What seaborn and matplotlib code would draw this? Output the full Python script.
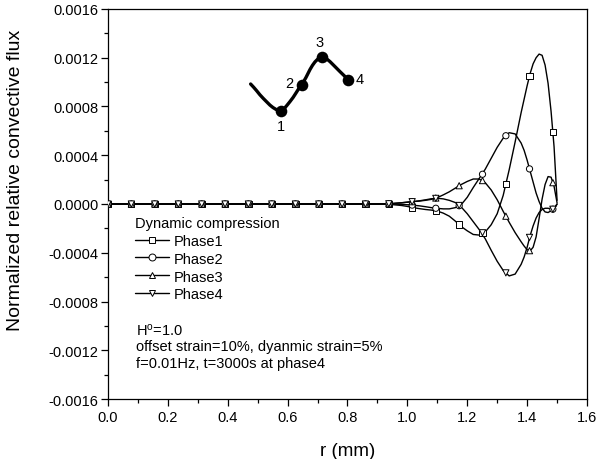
import numpy as np
import pandas as pd
import matplotlib
matplotlib.use("Agg")
import matplotlib.pyplot as plt
from matplotlib.lines import Line2D
from matplotlib.ticker import MultipleLocator, FuncFormatter
import seaborn as sns

# ---- data (flux values in units of 1e-4) ----
phases = ["Phase1", "Phase2", "Phase3", "Phase4"]
phase_markers = ["s", "o", "^", "v"]

# smooth curve samples
r_line = [0.0, 0.86, 0.90, 0.94, 0.98,
          1.00, 1.02, 1.04, 1.06, 1.08, 1.10, 1.12, 1.14, 1.16, 1.18,
          1.20, 1.22, 1.24, 1.26, 1.28, 1.30, 1.32, 1.34, 1.36, 1.38,
          1.39, 1.40, 1.41, 1.42, 1.43, 1.44, 1.45, 1.46, 1.47, 1.48, 1.49, 1.50]
p1_line = [0, 0, 0, -0.03, -0.12,
           -0.2, -0.3, -0.38, -0.45, -0.5, -0.58, -0.75, -1.0, -1.4, -1.85,
           -2.2, -2.5, -2.55, -2.3, -1.7, -0.8, 0.7, 2.8, 5.1, 7.5,
           8.6, 9.7, 10.7, 11.5, 12.0, 12.3, 12.2, 11.4, 9.9, 7.6, 4.7, 0.3]
p2_line = [0, 0, 0, 0, -0.03,
           -0.06, -0.1, -0.15, -0.22, -0.3, -0.36, -0.4, -0.4, -0.3, -0.05,
           0.55, 1.35, 2.1, 2.85, 3.75, 4.65, 5.4, 5.85, 5.75, 5.0,
           4.4, 3.6, 2.7, 1.8, 0.9, 0.2, -0.35, -0.65, -0.7, -0.55, -0.35, 0.0]
p3_line = [0, 0, 0, 0.02, 0.1,
           0.15, 0.2, 0.24, 0.3, 0.38, 0.52, 0.75, 1.0, 1.3, 1.6,
           1.85, 2.05, 2.05, 1.75, 1.15, 0.35, -0.6, -1.5, -2.35, -3.1,
           -3.45, -3.75, -3.85, -3.55, -2.7, -1.2, 0.4, 1.6, 2.25, 2.2, 1.45, 0.1]
p4_line = [0, 0, 0, 0.02, 0.1,
           0.15, 0.2, 0.26, 0.34, 0.43, 0.47, 0.42, 0.3, 0.12, -0.25,
           -0.8, -1.45, -2.1, -2.85, -3.8, -4.7, -5.45, -5.9, -5.75, -4.95,
           -4.35, -3.55, -2.6, -1.8, -1.15, -0.7, -0.45, -0.35, -0.35, -0.42, -0.45, 0.0]

# symbol positions
r_mark = [0.0, 0.078, 0.156, 0.235, 0.313, 0.391, 0.469, 0.547, 0.626, 0.704,
          0.782, 0.860, 0.938, 1.016, 1.095, 1.173, 1.251, 1.329, 1.408, 1.486]
p1_mark = [0, 0, 0, 0, 0, 0, 0, 0, 0, 0, 0, 0, -0.03, -0.28, -0.56, -1.69, -2.41, 1.65, 10.5, 5.9]
p2_mark = [0, 0, 0, 0, 0, 0, 0, 0, 0, 0, 0, 0, 0.0, -0.09, -0.35, -0.14, 2.44, 5.6, 2.88, -0.43]
p3_mark = [0, 0, 0, 0, 0, 0, 0, 0, 0, 0, 0, 0, 0.02, 0.19, 0.49, 1.5, 1.92, -1.0, -3.83, 1.75]
p4_mark = [0, 0, 0, 0, 0, 0, 0, 0, 0, 0, 0, 0, 0.02, 0.19, 0.46, -0.12, -2.36, -5.65, -2.74, -0.43]

# schematic of the loading cycle (inset)
inset_x = [-1.32, -1.19, -1.06, -0.92, -0.77, -0.62, -0.48, -0.35, -0.22, -0.11, 0.0,
           0.13, 0.25, 0.39, 0.53, 0.65, 0.76, 0.90,
           1.09, 1.26, 1.37, 1.48, 1.62, 1.77, 1.88, 1.99, 2.13, 2.27, 2.42, 2.57, 2.75, 2.93]
inset_y = [0.0, -0.12, -0.25, -0.40, -0.54, -0.67, -0.79, -0.88, -0.95, -0.99, -1.0,
           -0.93, -0.81, -0.66, -0.50, -0.34, -0.19, -0.04,
           0.25, 0.54, 0.70, 0.83, 0.95, 1.0, 0.99, 0.94, 0.84, 0.72, 0.59, 0.46, 0.31, 0.15]
dot_x = [0.0, 0.90, 1.77, 2.93]
dot_y = [-1.0, -0.04, 1.0, 0.15]
dot_labels = ["1", "2", "3", "4"]

notes = ["$\\mathregular{H^{o}}$=1.0",
         "offset strain=10%, dyanmic strain=5%",
         "f=0.01Hz, t=3000s at phase4"]

# ---- build tables ----
line_vals = [p1_line, p2_line, p3_line, p4_line]
mark_vals = [p1_mark, p2_mark, p3_mark, p4_mark]
df_line = pd.concat([pd.DataFrame({"r": r_line, "flux": np.array(v) * 1e-4, "phase": p})
                     for p, v in zip(phases, line_vals)], ignore_index=True)
df_mark = pd.concat([pd.DataFrame({"r": r_mark, "flux": np.array(v) * 1e-4, "phase": p})
                     for p, v in zip(phases, mark_vals)], ignore_index=True)

sns.set_style("ticks")
plt.rcParams["font.family"] = ["Liberation Sans", "DejaVu Sans"]
plt.rcParams["mathtext.fontset"] = "custom"
plt.rcParams["mathtext.rm"] = "Liberation Sans"
plt.rcParams["text.color"] = "black"
plt.rcParams["axes.labelcolor"] = "black"

fig = plt.figure(figsize=(6.01, 4.60), dpi=100)
ax = fig.add_axes([0.1797, 0.1304, 0.797, 0.8479])

sns.lineplot(data=df_line, x="r", y="flux", hue="phase", palette=["black"] * 4,
             estimator=None, sort=False, linewidth=1.0, legend=False, ax=ax)
sns.scatterplot(data=df_mark, x="r", y="flux", style="phase",
                markers=dict(zip(phases, phase_markers)), color="white",
                edgecolor="black", linewidth=0.7, s=20, legend=False, ax=ax, zorder=3)

ax.set_xlim(0, 1.6)
ax.set_ylim(-0.0016, 0.0016)
ax.xaxis.set_major_locator(MultipleLocator(0.2))
ax.xaxis.set_minor_locator(MultipleLocator(0.1))
ax.yaxis.set_major_locator(MultipleLocator(0.0004))
ax.yaxis.set_minor_locator(MultipleLocator(0.0002))
ax.xaxis.set_major_formatter(FuncFormatter(lambda v, p: f"{v:.1f}"))
ax.yaxis.set_major_formatter(FuncFormatter(lambda v, p: "0.0000" if abs(v) < 1e-9 else f"{v:.4f}"))
ax.tick_params(which="major", length=5, width=0.9, labelsize=10.5, color="black", labelcolor="black")
ax.tick_params(which="minor", length=3, width=0.9, color="black")
ax.tick_params(axis="x", pad=3)
ax.tick_params(axis="y", pad=2)
for s in ax.spines.values():
    s.set_color("black")
    s.set_linewidth(0.9)

ax.set_xlabel("r (mm)", fontsize=13.5)
ax.set_ylabel("Normalized relative convective flux", fontsize=14)
ax.xaxis.set_label_coords(0.501, -0.11)
ax.yaxis.set_label_coords(-0.176, 0.564)

handles = [Line2D([], [], color="black", lw=1.0, marker=m, markersize=5,
                  markerfacecolor="white", markeredgecolor="black", markeredgewidth=0.7)
           for m in phase_markers]
leg = ax.legend(handles, phases, title="Dynamic compression", loc="upper left",
                bbox_to_anchor=(0.057, 0.47), frameon=False, alignment="left",
                fontsize=10.5, title_fontsize=10.5, handlelength=2.3,
                handletextpad=0.35, labelspacing=0.27, borderpad=0, borderaxespad=0)

for txt, yy in zip(notes, [0.178, 0.137, 0.0915]):
    ax.text(0.058, yy, txt, transform=ax.transAxes, fontsize=10.5, va="center", ha="left")

# inset schematic
ax_in = fig.add_axes([0.3993, 0.7065, 0.2163, 0.2174])
ax_in.axis("off")
sns.lineplot(x=inset_x, y=inset_y, color="black", linewidth=2.4,
             estimator=None, sort=False, ax=ax_in)
sns.scatterplot(x=dot_x, y=dot_y, color="black", s=70, linewidth=0, ax=ax_in, zorder=3)
ax_in.set_xlim(-1.783, 3.870)
ax_in.set_ylim(-1.873, 1.873)
offsets = [(0, -10.8), (-8.6, 1.2), (-1.2, 10.8), (7.9, 0.5)]
for x, y, lab, off in zip(dot_x, dot_y, dot_labels, offsets):
    ax_in.annotate(lab, (x, y), xytext=off, textcoords="offset points",
                   ha="center", va="center", fontsize=10.5)

fig.savefig("out.png", dpi=100)
